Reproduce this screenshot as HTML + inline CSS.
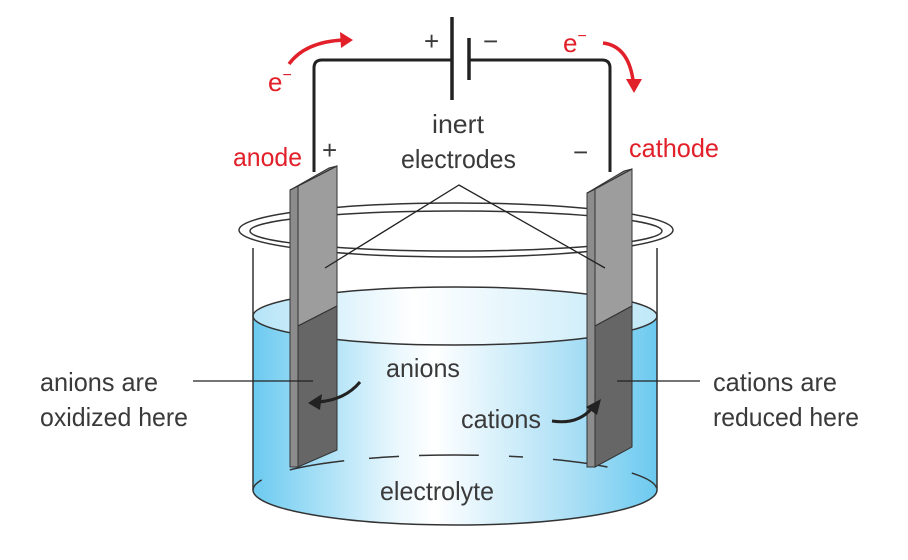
<!DOCTYPE html>
<html><head><meta charset="utf-8"><style>
html,body{margin:0;padding:0;background:#fff}
svg{display:block}
text{font-family:"Liberation Sans",sans-serif;font-size:26px;fill:#3a3a3a}
.r{fill:#e2202a}
</style></head><body>
<svg width="908" height="560" viewBox="0 0 908 560">
<defs>
<linearGradient id="lq" x1="0" x2="1" y1="0" y2="0">
<stop offset="0" stop-color="#6ccaf0"/><stop offset="0.35" stop-color="#e8f7fd"/><stop offset="0.45" stop-color="#ffffff"/><stop offset="0.8" stop-color="#a8def5"/><stop offset="1" stop-color="#6ccaf0"/>
</linearGradient>
<linearGradient id="lq2" x1="0" x2="1">
<stop offset="0" stop-color="#b5e4f7"/><stop offset="0.4" stop-color="#ffffff"/><stop offset="1" stop-color="#bfe8f8"/>
</linearGradient>
</defs>
<path d="M253 316 L253 490 A202 35 0 0 0 657 490 L657 316 Z" fill="url(#lq)"/>
<ellipse cx="455" cy="316" rx="202" ry="29" fill="url(#lq2)"/>
<ellipse cx="455" cy="316" rx="202" ry="29" fill="none" stroke="#333" stroke-width="1.5"/>
<path d="M253 248 L253 490 A202 35 0 0 0 657 490 L657 248" fill="none" stroke="#333" stroke-width="1.5"/>
<path d="M253 490 A202 35 0 0 1 657 490" fill="none" stroke="#333" stroke-width="1.5" stroke-dasharray="14 30 55 25 30 20 60 30"/>
<ellipse cx="456" cy="230" rx="217" ry="27" fill="none" stroke="#333" stroke-width="1.5"/>
<ellipse cx="456" cy="231" rx="206" ry="20" fill="none" stroke="#333" stroke-width="1.5"/>
<path d="M314 172 L314 68 Q314 60 322 60 L452 60 M470 60 L602 60 Q610 60 610 68 L610 172" fill="none" stroke="#222" stroke-width="3"/>
<line x1="452" y1="17" x2="452" y2="100" stroke="#222" stroke-width="3.5"/>
<line x1="469" y1="38" x2="469" y2="80" stroke="#222" stroke-width="3.5"/>
<g stroke="#333" stroke-width="1">
<polygon points="290,190 298,186 298,467 290,467" fill="#8c8c8c"/>
<polygon points="298,186 337,166 337,306 298,326" fill="#9d9d9d"/>
<polygon points="298,326 337,306 337,450 298,467" fill="#666"/>
<polygon points="290,190 329,168 337,166 298,186" fill="#777"/>
<polygon points="587,193 595,189 595,467 587,467" fill="#8c8c8c"/>
<polygon points="595,189 632,169 632,306 595,326" fill="#9d9d9d"/>
<polygon points="595,326 632,306 632,447 595,467" fill="#666"/>
<polygon points="587,193 624,171 632,169 595,189" fill="#777"/>
</g>
<path d="M325 268 L459 185 L605 268" fill="none" stroke="#222" stroke-width="1.3"/>
<line x1="193" y1="381" x2="313" y2="381" stroke="#222" stroke-width="1.3"/>
<line x1="617" y1="381" x2="700" y2="381" stroke="#222" stroke-width="1.3"/>
<path d="M360 382 Q345 400 318 402" fill="none" stroke="#222" stroke-width="3"/>
<polygon points="308,403 322,394 320,410" fill="#222"/>
<path d="M552 421 Q578 425 592 408" fill="none" stroke="#222" stroke-width="3"/>
<polygon points="601,399 597,415 586,407" fill="#222"/>
<path d="M289 64 Q305 42 343 40" fill="none" stroke="#e2202a" stroke-width="3.5"/>
<polygon points="353,40 340,32 341,48" fill="#e2202a"/>
<path d="M603 43 Q628 46 633 80" fill="none" stroke="#e2202a" stroke-width="3.5"/>
<polygon points="634,93 626,79 642,79" fill="#e2202a"/>
<text x="268" y="91" class="r">e<tspan font-size="16" dy="-11">−</tspan></text>
<text x="563" y="52" class="r">e<tspan font-size="16" dy="-11">−</tspan></text>
<text x="424" y="50">+</text>
<text x="483" y="50">−</text>
<text x="233" y="166" class="r" textLength="69" lengthAdjust="spacingAndGlyphs">anode</text>
<text x="629" y="157" class="r" textLength="90" lengthAdjust="spacingAndGlyphs">cathode</text>
<text x="322" y="159">+</text>
<text x="573" y="161">−</text>
<text x="432" y="133" textLength="52" lengthAdjust="spacingAndGlyphs">inert</text>
<text x="401" y="168" textLength="115" lengthAdjust="spacingAndGlyphs">electrodes</text>
<text x="40" y="391" textLength="118" lengthAdjust="spacingAndGlyphs">anions are</text>
<text x="40" y="426" textLength="148" lengthAdjust="spacingAndGlyphs">oxidized here</text>
<text x="713" y="391" textLength="124" lengthAdjust="spacingAndGlyphs">cations are</text>
<text x="713" y="426" textLength="146" lengthAdjust="spacingAndGlyphs">reduced here</text>
<text x="386" y="377" textLength="74" lengthAdjust="spacingAndGlyphs">anions</text>
<text x="461" y="428" textLength="80" lengthAdjust="spacingAndGlyphs">cations</text>
<text x="380" y="500" textLength="114" lengthAdjust="spacingAndGlyphs">electrolyte</text>
</svg>
</body></html>
